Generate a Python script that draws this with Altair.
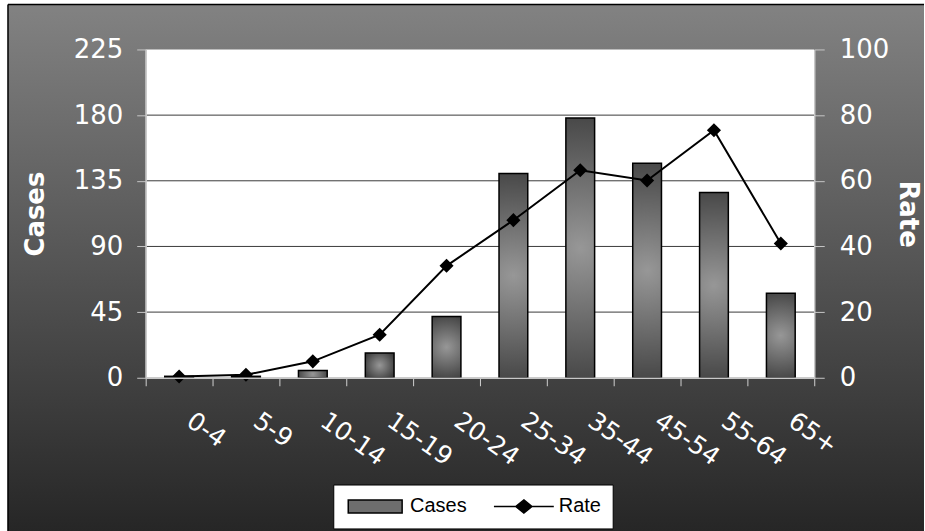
import altair as alt
import pandas as pd

# ---- data ----
age_groups = ["0-4", "5-9", "10-14", "15-19", "20-24", "25-34", "35-44", "45-54", "55-64", "65+"]
cases = [1, 1, 5, 17, 42, 140, 178, 147, 127, 58]
rates = [0.4, 0.9, 5.0, 13.1, 34.1, 48.0, 63.2, 60.1, 75.4, 40.9]
case_ticks = [0, 45, 90, 135, 180, 225]
rate_ticks = [0, 20, 40, 60, 80, 100]
grid_values = [45, 90, 135, 180]
legend_series = ["Cases", "Rate"]

W, H = 670, 329
FONT = "DejaVu Sans"

main = pd.DataFrame({"age": age_groups, "cases": cases, "rate": rates})
grid_df = pd.DataFrame({"g": grid_values})
one = pd.DataFrame({"k": [0]})
leg_df = pd.DataFrame({"series": legend_series})

x_enc = alt.X(
    "age:N",
    sort=age_groups,
    scale=alt.Scale(paddingInner=0, paddingOuter=0),
    axis=alt.Axis(
        title=None, labelAngle=35, labelAlign="left", labelBaseline="middle",
        labelOffset=10, labelPadding=32, tickBand="extent", tickSize=8,
        tickColor="#d0d0d0", domainColor="#c8c8c8", domainWidth=1.5,
        labelColor="white", labelFont=FONT, labelFontSize=25, zindex=1,
    ),
)

left_axis = alt.Axis(
    values=case_ticks, title="Cases", orient="left", grid=False, zindex=1,
    labelColor="white", labelFont=FONT, labelFontSize=26, tickSize=9,
    tickColor="#c8c8c8", domainColor="#c8c8c8", domainWidth=1.5, labelPadding=14,
    titleColor="white", titleFont=FONT, titleFontWeight="bold", titleFontSize=26,
    titlePadding=25,
)
right_axis = alt.Axis(
    values=rate_ticks, title="Rate", orient="right", grid=False, zindex=1,
    labelColor="white", labelFont=FONT, labelFontSize=26, tickSize=10,
    tickColor="#c8c8c8", domainColor="#c8c8c8", domainWidth=1.5, labelPadding=15,
    titleColor="white", titleFont=FONT, titleFontWeight="bold", titleFontSize=26,
    titlePadding=6,
)
case_scale = alt.Scale(domain=[0, 225], nice=False, zero=True)
rate_scale = alt.Scale(domain=[0, 100], nice=False, zero=True)

bg_gradient = {
    "gradient": "linear", "x1": 0, "y1": 0, "x2": 0, "y2": 1,
    "stops": [{"offset": 0, "color": "#828282"}, {"offset": 1, "color": "#262626"}],
}
bar_gradient = {
    "gradient": "radial", "x1": 0.5, "y1": 0.5, "r1": 0, "x2": 0.5, "y2": 0.5, "r2": 0.58,
    "stops": [{"offset": 0, "color": "#979797"}, {"offset": 1, "color": "#3c3c3c"}],
}

background = alt.Chart(one).mark_rect(fill=bg_gradient).encode(
    x=alt.value(-138), x2=alt.value(780), y=alt.value(-45), y2=alt.value(483)
)
border_left = alt.Chart(one).mark_rule(color="black", strokeWidth=1.5).encode(
    x=alt.value(-138), y=alt.value(-45), y2=alt.value(483)
)
border_top = alt.Chart(one).mark_rule(color="black", strokeWidth=1.5).encode(
    x=alt.value(-138), x2=alt.value(780), y=alt.value(-45)
)

rect_path = "M-0.9,-0.22L0.9,-0.22L0.9,0.22L-0.9,0.22Z"
rate_path = "M-1,0L1,0M0,-0.22L0.27,0L0,0.22L-0.27,0Z"
legend_props = dict(
    orient="none", legendX=188, legendY=436, direction="horizontal", title=None,
    fillColor="white", strokeColor="black", padding=11, symbolSize=3600,
    symbolStrokeWidth=1.5, symbolOpacity=1, clipHeight=22,
    labelFont="Liberation Sans", labelFontSize=20, labelColor="black",
    labelOffset=4, columnPadding=26,
)
legend_layer = alt.Chart(leg_df).mark_point(strokeWidth=1.5, opacity=1).encode(
    x=alt.value(300), y=alt.value(150),
    fill=alt.Fill("series:N", scale=alt.Scale(domain=legend_series, range=["#6e6e6e", "black"]),
                  legend=alt.Legend(**legend_props)),
    stroke=alt.Stroke("series:N", scale=alt.Scale(domain=legend_series, range=["black", "black"]),
                      legend=alt.Legend(**legend_props)),
    shape=alt.Shape("series:N", scale=alt.Scale(domain=legend_series, range=[rect_path, rate_path]),
                    legend=alt.Legend(**legend_props)),
)

plot_bg = alt.Chart(one).mark_rect(fill="white").encode(
    x=alt.value(0), x2=alt.value(W), y=alt.value(0), y2=alt.value(H)
)
grid = alt.Chart(grid_df).mark_rule(color="#3a3a3a", strokeWidth=1).encode(
    y=alt.Y("g:Q", scale=case_scale, axis=left_axis)
)
bars = alt.Chart(main).mark_bar(
    fill=bar_gradient, stroke="black", strokeWidth=1.5, width=alt.RelativeBandSize(0.43)
).encode(
    x=x_enc,
    y=alt.Y("cases:Q", scale=case_scale, axis=left_axis),
)

left = alt.layer(background, border_left, border_top, legend_layer, plot_bg, grid, bars)

line = alt.Chart(main).mark_line(color="black", strokeWidth=2).encode(
    x=x_enc, y=alt.Y("rate:Q", scale=rate_scale, axis=right_axis)
)
points = alt.Chart(main).mark_point(shape="diamond", filled=True, color="black", size=200, opacity=1).encode(
    x=x_enc, y=alt.Y("rate:Q", scale=rate_scale, axis=right_axis)
)
right = alt.layer(line, points)

chart = alt.layer(left, right).resolve_scale(y="independent").properties(
    width=W, height=H,
    padding={"left": 7, "top": 3, "right": 0, "bottom": 0},
    background="white",
).configure_view(stroke=None)

chart.save("out.html", embed_options={"renderer": "svg", "actions": False})
